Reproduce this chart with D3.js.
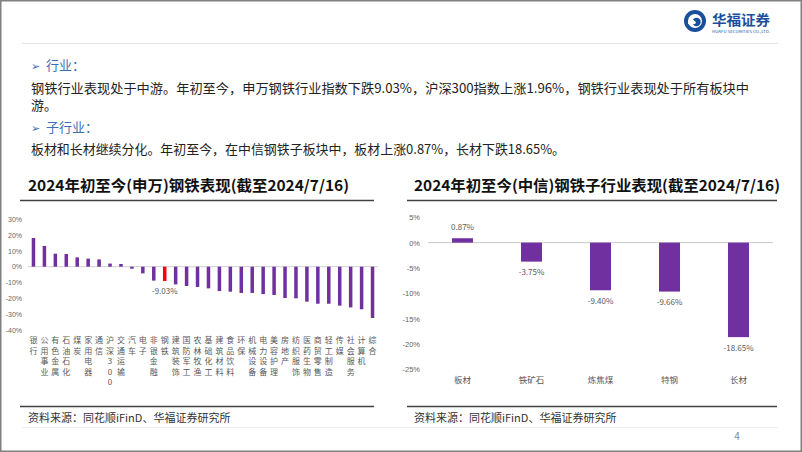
<!DOCTYPE html>
<html><head><meta charset="utf-8">
<script src="https://cdn.jsdelivr.net/npm/d3@7"></script>
<style>
html,body{margin:0;padding:0;background:#fff;}
svg{display:block;font-family:"Noto Sans CJK SC","Noto Sans",sans-serif;}
</style></head>
<body>
<svg id="c" width="802" height="452"></svg>
<script>
// ---- data ----
const swCategories = ["银行","公用事业","有色金属","石油石化","煤炭","家用电器","通信","沪深300","交通运输","汽车","电子","非银金融","钢铁","建筑装饰","国防军工","农林牧渔","基础化工","建筑材料","食品饮料","环保","机械设备","电力设备","美容护理","房地产","纺织服饰","医药生物","商贸零售","轻工制造","传媒","社会服务","计算机","综合"];
const swValues = [18.1,13.1,8.2,8.0,5.9,5.1,4.6,1.96,1.7,-1.3,-4.2,-8.8,-9.03,-11.2,-12.2,-12.8,-13.7,-15.4,-15.8,-16.6,-16.6,-17.3,-17.9,-19.8,-20.0,-22.1,-23.4,-23.4,-24.6,-25.7,-26.9,-32.4];
const swHighlight = "钢铁";
const swTicks = [30,20,10,0,-10,-20,-30,-40];

const citicCategories = ["板材","铁矿石","炼焦煤","特钢","长材"];
const citicValues = [0.87,-3.75,-9.40,-9.66,-18.65];
const citicTicks = [5,0,-5,-10,-15,-20,-25];

const svg = d3.select("#c");
const purple = "#7030a0";

// page border
svg.append("rect").attr("x",0.75).attr("y",0.75).attr("width",800.5).attr("height",450.5)
  .attr("fill","none").attr("stroke","#808080").attr("stroke-width",1.5);

// logo
const lg = svg.append("g").attr("transform","translate(695,21)");
lg.append("circle").attr("r",11).attr("fill","#1b4f9e");
lg.append("circle").attr("r",7).attr("fill","#fff");
lg.append("circle").attr("cx",1.5).attr("cy",1).attr("r",4.2).attr("fill","#1b4f9e");
lg.append("path").attr("d","M-7,-1 L-1,-1 L-1,3 L-7,3 Z").attr("fill","#fff");
lg.append("circle").attr("cx",-1).attr("cy",1.5).attr("r",1.8).attr("fill","#fff");
svg.append("text").attr("x",712).attr("y",25).attr("font-size",14).attr("font-weight",700)
  .attr("fill","#1b4f9e").attr("textLength",58).attr("lengthAdjust","spacingAndGlyphs").text("华福证券");
svg.append("text").attr("x",712).attr("y",33).attr("font-size",3.6).attr("fill","#1b4f9e")
  .attr("textLength",58).attr("lengthAdjust","spacingAndGlyphs").text("HUAFU SECURITIES CO.,LTD.");
svg.append("line").attr("x1",22).attr("x2",778).attr("y1",43.5).attr("y2",43.5).attr("stroke","#e3e3e3").attr("stroke-width",1);

// text block
const blue = "#3c6eb4";
function heading(y, t){
  svg.append("text").attr("x",31).attr("y",y+4.5).attr("font-size",11).attr("fill",blue)
    .attr("font-family","DejaVu Sans").text("➢");
  svg.append("text").attr("x",46).attr("y",y+4.5).attr("font-size",13).attr("fill",blue).text(t);
}
heading(65,"行业：");
svg.append("text").attr("x",31).attr("y",92.5).attr("font-size",13).attr("fill","#222")
  .attr("textLength",718).attr("lengthAdjust","spacingAndGlyphs")
  .text("钢铁行业表现处于中游。年初至今，申万钢铁行业指数下跌9.03%，沪深300指数上涨1.96%，钢铁行业表现处于所有板块中");
svg.append("text").attr("x",31).attr("y",110).attr("font-size",13).attr("fill","#222").text("游。");
heading(127,"子行业：");
svg.append("text").attr("x",31).attr("y",153.5).attr("font-size",13).attr("fill","#222")
  .attr("textLength",534).attr("lengthAdjust","spacingAndGlyphs")
  .text("板材和长材继续分化。年初至今，在中信钢铁子板块中，板材上涨0.87%，长材下跌18.65%。");

// titles & frame lines
svg.append("text").attr("x",28).attr("y",190.5).attr("font-size",15).attr("font-weight",700).attr("fill","#111")
  .attr("textLength",321).attr("lengthAdjust","spacingAndGlyphs").text("2024年初至今(申万)钢铁表现(截至2024/7/16)");
svg.append("text").attr("x",414).attr("y",190.5).attr("font-size",15).attr("font-weight",700).attr("fill","#111")
  .attr("textLength",366).attr("lengthAdjust","spacingAndGlyphs").text("2024年初至今(中信)钢铁子行业表现(截至2024/7/16)");
[[20,374],[407,777]].forEach(([a,b])=>{
  svg.append("line").attr("x1",a).attr("x2",b).attr("y1",200.5).attr("y2",200.5).attr("stroke","#404040").attr("stroke-width",1.6);
  svg.append("line").attr("x1",a).attr("x2",b).attr("y1",406.5).attr("y2",406.5).attr("stroke","#404040").attr("stroke-width",1.3);
});
svg.append("text").attr("x",28).attr("y",422).attr("font-size",11).attr("fill","#333").text("资料来源：同花顺iFinD、华福证券研究所");
svg.append("text").attr("x",414).attr("y",422).attr("font-size",11).attr("fill","#333").text("资料来源：同花顺iFinD、华福证券研究所");
svg.append("line").attr("x1",22).attr("x2",778).attr("y1",427.5).attr("y2",427.5).attr("stroke","#eeeeee").attr("stroke-width",1);
svg.append("text").attr("x",737).attr("y",440).attr("font-size",10).attr("fill","#888").attr("text-anchor","middle").text("4");

// ---- left chart ----
const x1 = d3.scaleBand().domain(swCategories).range([28,378]).paddingInner(0.68).paddingOuter(0.34);
const y1 = d3.scaleLinear().domain([-40,30]).range([330,219.2]);
const gL = svg.append("g");
const axL = d3.axisLeft(y1).tickValues(swTicks).tickSize(0).tickFormat(d=>d+"%");
const axLg = gL.append("g").attr("transform","translate(25,0)").call(axL);
axLg.select(".domain").remove();
axLg.selectAll("text").attr("font-size",7).attr("fill","#666").attr("font-family","Liberation Sans, Arial, sans-serif").attr("dx",0);
gL.append("line").attr("x1",28).attr("x2",378).attr("y1",y1(0)).attr("y2",y1(0)).attr("stroke","#d0d0d0").attr("stroke-width",1);
gL.selectAll("rect.b").data(swCategories).join("rect")
  .attr("x",d=>x1(d)).attr("width",x1.bandwidth())
  .attr("y",(d,i)=>Math.min(y1(0),y1(swValues[i])))
  .attr("height",(d,i)=>Math.abs(y1(swValues[i])-y1(0)))
  .attr("fill",d=>d===swHighlight?"#ff0000":purple);
const hi = swCategories.indexOf(swHighlight);
gL.append("text").attr("x",x1(swHighlight)+x1.bandwidth()/2).attr("y",y1(swValues[hi])+13.5)
  .attr("text-anchor","middle").attr("font-size",8).attr("fill","#595959").text(swValues[hi].toFixed(2)+"%");
swCategories.forEach(c=>{
  Array.from(c).forEach((ch,j)=>{
    gL.append("text").attr("x",x1(c)+x1.bandwidth()/2).attr("y",343+j*10.5)
      .attr("text-anchor","middle").attr("font-size",8).attr("fill","#595959").text(ch);
  });
});

// ---- right chart ----
const x2 = d3.scaleBand().domain(citicCategories).range([428,773]).paddingInner(0.696).paddingOuter(0.348);
const y2 = d3.scaleLinear().domain([-25,5]).range([369.3,217.3]);
const gR = svg.append("g");
const axR = d3.axisLeft(y2).tickValues(citicTicks).tickSize(0).tickFormat(d=>d+"%");
const axRg = gR.append("g").attr("transform","translate(423,0)").call(axR);
axRg.select(".domain").remove();
axRg.selectAll("text").attr("font-size",7.5).attr("fill","#666").attr("font-family","Liberation Sans, Arial, sans-serif");
gR.append("line").attr("x1",428).attr("x2",773).attr("y1",y2(0)).attr("y2",y2(0)).attr("stroke","#c8c8c8").attr("stroke-width",1);
gR.selectAll("rect.b").data(citicCategories).join("rect")
  .attr("x",d=>x2(d)).attr("width",x2.bandwidth())
  .attr("y",(d,i)=>Math.min(y2(0),y2(citicValues[i])))
  .attr("height",(d,i)=>Math.abs(y2(citicValues[i])-y2(0)))
  .attr("fill",purple);
gR.selectAll("text.v").data(citicCategories).join("text")
  .attr("x",d=>x2(d)+x2.bandwidth()/2)
  .attr("y",(d,i)=>citicValues[i]>=0? y2(citicValues[i])-8 : y2(citicValues[i])+13.5)
  .attr("text-anchor","middle").attr("font-size",8).attr("fill","#595959")
  .text((d,i)=>citicValues[i].toFixed(2)+"%");
gR.selectAll("text.c").data(citicCategories).join("text")
  .attr("x",d=>x2(d)+x2.bandwidth()/2).attr("y",383)
  .attr("text-anchor","middle").attr("font-size",8.5).attr("fill","#595959").text(d=>d);
</script>
</body></html>
